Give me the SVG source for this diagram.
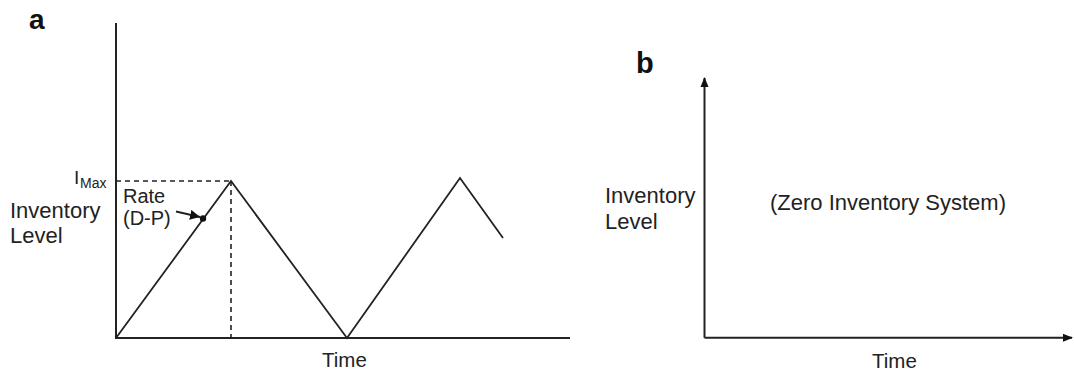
<svg xmlns="http://www.w3.org/2000/svg" width="1074" height="373" viewBox="0 0 1074 373">
<defs>
<style>
.ax{stroke:#222;stroke-width:2;fill:none}
.ln{stroke:#222;stroke-width:1.8;fill:none;stroke-linejoin:miter}
.dash{stroke:#222;stroke-width:1.6;fill:none;stroke-dasharray:5,4}
.t{font-family:"Liberation Sans",Arial,sans-serif;fill:#222}
.lbl{font-family:"Liberation Sans",Arial,sans-serif;font-weight:bold;fill:#111}
</style>
<marker id="ah" viewBox="0 0 10 10" refX="10" refY="5" markerWidth="10" markerHeight="10" markerUnits="userSpaceOnUse" orient="auto">
<path d="M0,0 L10,5 L0,10 z" fill="#111"/>
</marker>
<marker id="ah2" viewBox="0 0 10 10" refX="9" refY="5" markerWidth="12" markerHeight="10" markerUnits="userSpaceOnUse" orient="auto">
<path d="M0,1 L10,5 L0,9 z" fill="#111"/>
</marker>
</defs>
<rect width="1074" height="373" fill="#fff"/>

<g id="panel-a">
<text class="lbl" x="29" y="29" font-size="28">a</text>
<g id="axes-a">
<path class="ax" d="M116,23 V338 H570"/>
</g>
<g id="imax">
<text class="t" x="74" y="184" font-size="19">I</text>
<text class="t" x="80" y="188" font-size="14">Max</text>
</g>
<g id="ylabel-a">
<text class="t" x="10" y="218" font-size="22">Inventory</text>
<text class="t" x="10" y="243" font-size="22">Level</text>
</g>
<g id="rate-label">
<text class="t" x="123" y="203" font-size="20">Rate</text>
<text class="t" x="123" y="225" font-size="20">(D-P)</text>
</g>
<g id="xlabel-a">
<text class="t" x="322" y="367" font-size="20.5">Time</text>
</g>
<g id="curve-a">
<path class="ln" d="M116,338 L231,181 L347,338 L460,178 L503,238"/>
<circle cx="203" cy="218.5" r="3.2" fill="#111"/>
</g>
<g id="guides-a">
<path class="dash" d="M116,181 H231"/>
<path class="dash" d="M231,181 V338"/>
</g>
</g>

<g id="panel-b">
<text class="lbl" x="636" y="73" font-size="29">b</text>
<g id="axes-b">
<path class="ax" d="M704.5,337.7 V78" marker-end="url(#ah2)"/>
<path class="ax" d="M704.5,337.7 H1072" marker-end="url(#ah2)"/>
</g>
<g id="ylabel-b">
<text class="t" x="605" y="203" font-size="22">Inventory</text>
<text class="t" x="605" y="229" font-size="22">Level</text>
</g>
<g id="zero-label">
<text class="t" x="770" y="210" font-size="22">(Zero Inventory System)</text>
</g>
<g id="xlabel-b">
<text class="t" x="872" y="368" font-size="20.5">Time</text>
</g>
</g>

<g id="connectors">
<path class="ln" d="M176,211.5 L200,217" marker-end="url(#ah)"/>
</g>
</svg>
